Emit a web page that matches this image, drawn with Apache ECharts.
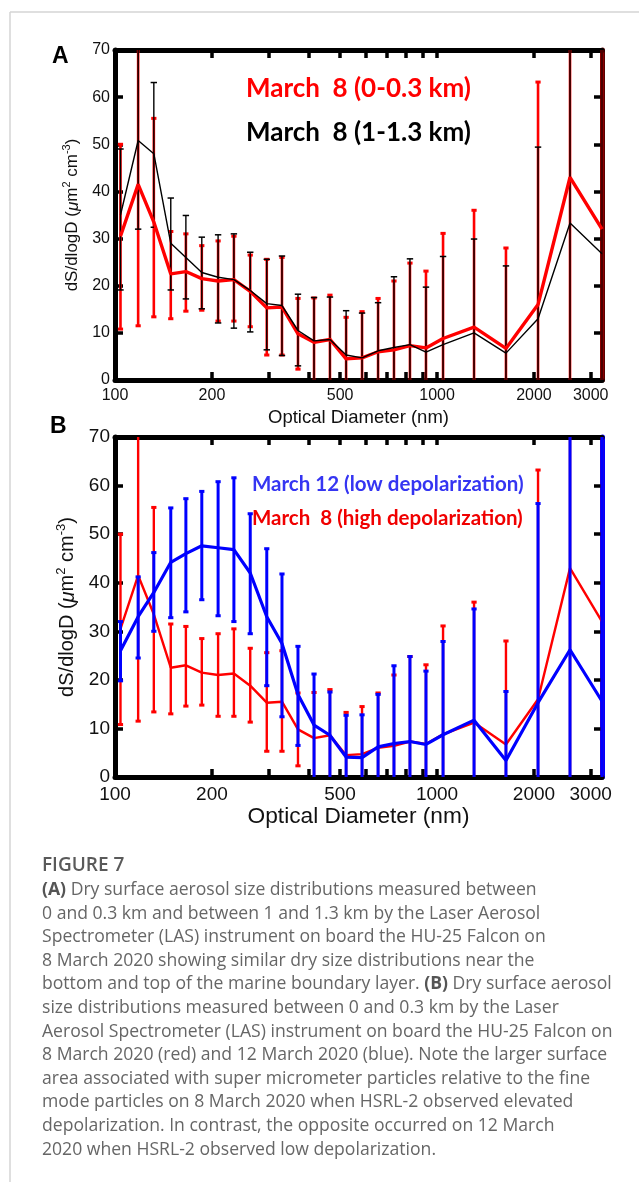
<!DOCTYPE html>
<html>
<head>
<meta charset="utf-8">
<script src="https://cdn.jsdelivr.net/npm/echarts@6/dist/echarts.min.js"></script>
<style>
html,body{margin:0;padding:0;background:#fff;}
#chart{width:639px;height:1182px;}
</style>
</head>
<body>
<div id="chart"></div>
<script>
// ---- data ----
const diameterNm = [104,118,132,149,166,186,209,234,263,296,330,370,415,465,522,585,656,735,824,924,1044,1303,1637,2059,2588,3253];

// March 8, 0-0.3 km (red)
const mar8SurfMean = [30.5,41.5,33.5,22.5,23,21.5,21,21.3,18.8,15.3,15.5,9.8,8,8.6,4.5,4.7,6,6.4,7.3,6.8,8.8,11.2,6.7,16,43,32];
const mar8SurfLow  = [10.8,11.5,13.4,13,14.6,14.8,12.5,12.5,11.3,5.3,5.3,2.3,0,0,0,0,0,0,0,0,0,0,0,0,0,0];
const mar8SurfHigh = [50,72,55.5,31.5,31,28.5,29.5,30.5,26.5,25.6,26,17.3,17.4,18,13.3,14.5,17.3,21,24.8,23.1,31.1,36,28,63.2,80,80];

// March 8, 1-1.3 km (black)
const mar8TopMean = [35,50.8,48,29,26,22.8,21.8,21.3,19,16.2,15.8,10.5,8.3,8.6,5.3,4.7,6.2,6.9,7.5,5.9,7.5,10,5.7,13,33.3,26.8];
const mar8TopLow  = [19.1,32,32.4,19.1,17.2,15.1,12.1,11,10.2,6.4,5.2,3,0,0,0,0,0,0,0,0,0,0,0,0,0,0];
const mar8TopHigh = [49,72,63.1,38.6,34.9,30.3,30.8,31,27.1,25.6,26.3,18.2,17.5,17.6,14.7,14.2,16.4,21.9,25.7,19.7,26.2,29.9,24.2,49.4,80,80];

// March 12, 0-0.3 km (blue)
const mar12Mean = [26,33,38,44.2,46,47.6,47.2,46.8,42,33,27.5,17,10.7,8.6,4.1,4,6.2,6.9,7.3,6.7,8.7,11.7,3.4,15.3,26.2,15.6];
const mar12Low  = [19.8,24.5,30,32.8,34,36.5,33.2,32,29.5,18.8,12.4,6.5,0,0,0,0,0,0,0,0,0,0,0,0,0,0];
const mar12High = [32,41.2,46.2,55.4,57.3,58.8,60.8,61.6,54.2,47,41.8,26.9,21.2,17.5,12.7,12.8,17,22.9,24.8,21.8,27.9,34.6,17.6,56.3,80,80];

const xLabelValues = [100,200,500,1000,2000,3000];
const xTickValues  = [200,300,400,500,600,700,800,900,1000,2000,3000];
const xMin = 100, xMax = 3253;
const yMin = 0, yMax = 70, yStep = 10;

const captionLines = [
  "{b|(A)} Dry surface aerosol size distributions measured between",
  "0 and 0.3 km and between 1 and 1.3 km by the Laser Aerosol",
  "Spectrometer (LAS) instrument on board the HU-25 Falcon on",
  "8 March 2020 showing similar dry size distributions near the",
  "bottom and top of the marine boundary layer. {b|(B)} Dry surface aerosol",
  "size distributions measured between 0 and 0.3 km by the Laser",
  "Aerosol Spectrometer (LAS) instrument on board the HU-25 Falcon on",
  "8 March 2020 (red) and 12 March 2020 (blue). Note the larger surface",
  "area associated with super micrometer particles relative to the fine",
  "mode particles on 8 March 2020 when HSRL-2 observed elevated",
  "depolarization. In contrast, the opposite occurred on 12 March",
  "2020 when HSRL-2 observed low depolarization."
];

// ---- helpers ----
const lg = v => Math.log10(v);
const FONT = "'Liberation Sans', Arial, sans-serif";
const CAP_FONT = "'Open Sans', sans-serif";
const RED = '#ff0000', BLACK = '#000000', BLUE = '#0000ff';

function lineData(mean){ return diameterNm.map((d,i)=>[lg(d), mean[i]]); }
function errData(lo, hi){ return diameterNm.map((d,i)=>[lg(d), lo[i], hi[i]]); }

function errRender(color, width, capHalf, capWidth){
  return function(params, api){
    const x = api.value(0), lo = api.value(1), hi = api.value(2);
    const top = api.coord([x, Math.min(hi, yMax)]);
    const bot = api.coord([x, Math.max(lo, yMin)]);
    const children = [{
      type:'line', shape:{x1:top[0], y1:top[1], x2:bot[0], y2:bot[1]},
      style:{stroke:color, lineWidth:width}
    }];
    if (hi < yMax) children.push({type:'line', shape:{x1:top[0]-capHalf, y1:top[1], x2:top[0]+capHalf, y2:top[1]}, style:{stroke:color, lineWidth:capWidth}});
    if (lo > yMin) children.push({type:'line', shape:{x1:bot[0]-capHalf, y1:bot[1], x2:bot[0]+capHalf, y2:bot[1]}, style:{stroke:color, lineWidth:capWidth}});
    return {type:'group', children};
  };
}

function xAxes(gridIndex, fontSize, nameSize, nameGap){
  const tickStyle = {show:true, inside:true, length:8, lineStyle:{color:'#000', width:3.5}, customValues: xTickValues.map(lg)};
  return [{
    type:'value', gridIndex, position:'bottom', min:lg(xMin), max:lg(xMax),
    axisLine:{show:true, onZero:false, lineStyle:{color:'#000', width:5}},
    axisTick: tickStyle,
    axisLabel:{show:true, customValues: xLabelValues.map(lg), formatter: v => String(Math.round(Math.pow(10, v))),
               fontSize, fontFamily:FONT, color:'#111', margin:8},
    splitLine:{show:false},
    name:'Optical Diameter (nm)', nameLocation:'middle', nameGap,
    nameTextStyle:{fontSize:nameSize, fontFamily:FONT, color:'#111'}
  },{
    type:'value', gridIndex, position:'top', min:lg(xMin), max:lg(xMax),
    axisLine:{show:true, onZero:false, lineStyle:{color:'#000', width:5}},
    axisTick: tickStyle, axisLabel:{show:false}, splitLine:{show:false}
  }];
}

function yAxes(gridIndex, fontSize, nameSize, nameLH, nameGap, rightColor){
  const sup = Math.round(nameSize*0.65);
  return [{
    type:'value', gridIndex, position:'left', min:yMin, max:yMax, interval:yStep,
    axisLine:{show:true, onZero:false, lineStyle:{color:'#000', width:5}},
    axisTick:{show:true, inside:true, length:8, lineStyle:{color:'#000', width:3.5}},
    axisLabel:{fontSize, fontFamily:FONT, color:'#111', margin:5},
    splitLine:{show:false},
    name:'{t|dS/dlogD (}{i|μ}{t|m}{s|2}{t| cm}{s|-3}{t|)}', nameLocation:'middle', nameGap,
    nameTextStyle:{
      rich:{
        t:{fontSize:nameSize, fontFamily:FONT, color:'#111', lineHeight:nameLH},
        i:{fontSize:nameSize, fontFamily:FONT, fontStyle:'italic', color:'#111', lineHeight:nameLH},
        s:{fontSize:sup, fontFamily:FONT, color:'#111', lineHeight:sup+1, verticalAlign:'top'}
      }
    }
  },{
    type:'value', gridIndex, position:'right', min:yMin, max:yMax, interval:yStep,
    axisLine:{show:true, onZero:false, lineStyle:{color:rightColor, width:5}},
    axisTick:{show:true, inside:true, length:8, lineStyle:{color:'#000', width:3.5}},
    axisLabel:{show:false}, splitLine:{show:false}
  }];
}

const series = [
  // panel A
  {type:'custom', xAxisIndex:0, yAxisIndex:0, data:errData(mar8SurfLow, mar8SurfHigh), renderItem:errRender(RED, 2.6, 2.6, 3), encode:{x:0, y:[1,2]}, z:3},
  {type:'custom', xAxisIndex:0, yAxisIndex:0, data:errData(mar8TopLow, mar8TopHigh), renderItem:errRender(BLACK, 1.4, 3.2, 1.5), encode:{x:0, y:[1,2]}, z:3},
  {type:'line', xAxisIndex:0, yAxisIndex:0, data:lineData(mar8SurfMean), showSymbol:false, lineStyle:{color:RED, width:3.4}, itemStyle:{color:RED}, z:4},
  {type:'line', xAxisIndex:0, yAxisIndex:0, data:lineData(mar8TopMean), showSymbol:false, lineStyle:{color:BLACK, width:1.4}, itemStyle:{color:BLACK}, z:4},
  // panel B
  {type:'custom', xAxisIndex:2, yAxisIndex:2, data:errData(mar8SurfLow, mar8SurfHigh), renderItem:errRender(RED, 2.4, 2.6, 3), encode:{x:0, y:[1,2]}, z:3},
  {type:'line', xAxisIndex:2, yAxisIndex:2, data:lineData(mar8SurfMean), showSymbol:false, lineStyle:{color:RED, width:2.4}, itemStyle:{color:RED}, z:3},
  {type:'custom', xAxisIndex:2, yAxisIndex:2, data:errData(mar12Low, mar12High), renderItem:errRender(BLUE, 3, 2.6, 3), encode:{x:0, y:[1,2]}, z:4},
  {type:'line', xAxisIndex:2, yAxisIndex:2, data:lineData(mar12Mean), showSymbol:false, lineStyle:{color:BLUE, width:3.2}, itemStyle:{color:BLUE}, z:4}
];

const graphics = [
  {type:'line', shape:{x1:10, y1:12, x2:639, y2:12}, style:{stroke:'#d4d4d4', lineWidth:1.5}, silent:true},
  {type:'line', shape:{x1:10, y1:12, x2:10, y2:1182}, style:{stroke:'#d4d4d4', lineWidth:1.5}, silent:true},
  {type:'text', x:52, y:57, style:{text:'A', fontSize:23, fontWeight:'bold', fontFamily:FONT, fill:'#000', textVerticalAlign:'middle'}},
  {type:'text', x:50, y:427, style:{text:'B', fontSize:23, fontWeight:'bold', fontFamily:FONT, fill:'#000', textVerticalAlign:'middle'}},
  {type:'text', x:246, y:89, z:10, style:{text:'March  8 (0-0.3 km)', fontSize:26, fontWeight:'bold', fontFamily:'Lato, sans-serif', fill:RED, textVerticalAlign:'middle'}},
  {type:'text', x:246, y:133, z:10, style:{text:'March  8 (1-1.3 km)', fontSize:26, fontWeight:'bold', fontFamily:'Lato, sans-serif', fill:'#000', textVerticalAlign:'middle'}},
  {type:'text', x:252, y:484, z:10, style:{text:'March 12 (low depolarization)', fontSize:20.5, fontWeight:'bold', fontFamily:'Lato, sans-serif', fill:'#3535f2', textVerticalAlign:'middle'}},
  {type:'text', x:252, y:518, z:10, style:{text:'March  8 (high depolarization)', fontSize:20.5, fontWeight:'bold', fontFamily:'Lato, sans-serif', fill:'#f00000', textVerticalAlign:'middle'}},
  {type:'text', x:42, y:866, style:{text:'FIGURE 7', fontSize:19, fontWeight:600, fontFamily:CAP_FONT, fill:'#5a5a5a', textVerticalAlign:'middle'}}
];
captionLines.forEach((t,i)=>{
  graphics.push({type:'text', x:42, y:890 + i*23.6, style:{
    text:t, fontSize:17.6, fontFamily:CAP_FONT, fill:'#666', textVerticalAlign:'middle',
    rich:{b:{fontSize:17.6, fontWeight:'bold', fontFamily:CAP_FONT, fill:'#555'}}
  }});
});

const option = {
  animation:false,
  backgroundColor:'#fff',
  grid:[
    {left:115, top:50, width:487, height:330},
    {left:115, top:437, width:487, height:340}
  ],
  xAxis:[...xAxes(0, 16, 18.5, 28), ...xAxes(1, 19, 22.7, 26)],
  yAxis:[...yAxes(0, 16, 17, 22, 24, '#5a0000'), ...yAxes(1, 19, 20, 26, 32, '#0000ff')],
  series,
  graphic: graphics
};

const chart = echarts.init(document.getElementById('chart'));
chart.setOption(option);
</script>
</body>
</html>
